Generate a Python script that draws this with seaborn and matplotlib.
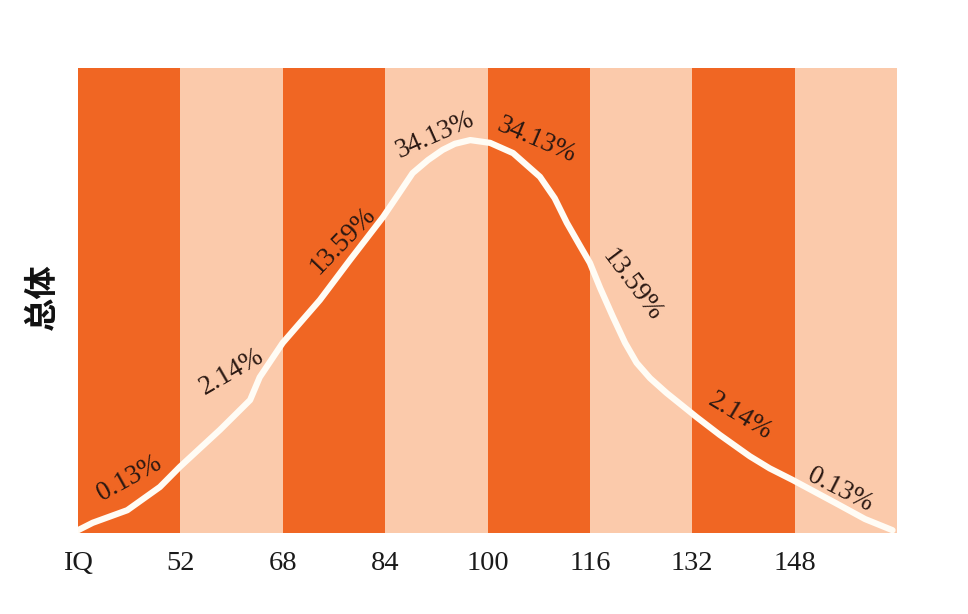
import pandas as pd
import matplotlib
matplotlib.use("Agg")
import matplotlib.pyplot as plt
import seaborn as sns

# bandas de IQ (borde izquierdo) y colores alternos
band_left = [36, 52, 68, 84, 100, 116, 132, 148]
band_width = 16
band_colors = ["#F06623", "#FBCAAB", "#F06623", "#FBCAAB",
               "#F06623", "#FBCAAB", "#F06623", "#FBCAAB"]
tick_labels = ["IQ", "52", "68", "84", "100", "116", "132", "148"]

# curva dibujada a mano, altura relativa 0..1
curve_iq = [36.0, 38.3, 43.7, 48.8, 51.9, 58.2, 62.9, 64.4, 68.0, 73.8, 78.5, 83.7,
            86.3, 88.3, 90.7, 93.0, 94.9, 97.3, 100.4, 104.0, 108.2, 110.5, 112.4,
            114.4, 116.0, 117.6, 119.6, 121.5, 123.3, 125.4, 128.0, 132.7, 136.3,
            141.0, 144.1, 147.7, 154.6, 159.0, 163.3]
curve_h = [0.006, 0.022, 0.049, 0.099, 0.142, 0.222, 0.286, 0.335, 0.409, 0.501,
           0.587, 0.680, 0.733, 0.774, 0.802, 0.824, 0.837, 0.845, 0.839, 0.817,
           0.766, 0.720, 0.667, 0.619, 0.581, 0.527, 0.465, 0.409, 0.366, 0.333,
           0.301, 0.249, 0.211, 0.165, 0.139, 0.114, 0.063, 0.030, 0.006]

# etiquetas de porcentaje
pct_text = ["0.13%", "2.14%", "13.59%", "34.13%", "34.13%", "13.59%", "2.14%", "0.13%"]
pct_x = [44.1, 60.1, 77.4, 91.8, 107.7, 122.6, 139.4, 155.1]
pct_y = [0.118, 0.347, 0.630, 0.855, 0.845, 0.533, 0.250, 0.093]
pct_rot = [29, 30, 46, 24, -23, -53, -31, -27]

sns.set_theme(style="white")
plt.rcParams["font.family"] = ["Liberation Serif", "DejaVu Serif"]

fig = plt.figure(figsize=(9.68, 6.14), dpi=100)
ax = fig.add_axes([78 / 968, 81 / 614, 819 / 968, 465 / 614])

ax.bar(band_left, [1] * len(band_left), width=band_width, align="edge",
       color=band_colors, linewidth=0)

df = pd.DataFrame({"iq": curve_iq, "h": curve_h})
sns.lineplot(data=df, x="iq", y="h", ax=ax, color="#FFFCF5", linewidth=4.5,
             sort=False, solid_capstyle="round", solid_joinstyle="round")

for t, x, y, r in zip(pct_text, pct_x, pct_y, pct_rot):
    ax.text(x, y, t, rotation=r, ha="center", va="center", fontsize=19.5,
            color="#2a1812", rotation_mode="anchor")

ax.set_xlim(36, 164)
ax.set_ylim(0, 1)
ax.set_xticks(band_left)
ax.set_xticklabels(tick_labels, fontsize=20.5, color="#1a1a1a")
ax.tick_params(axis="x", length=0, pad=13)
ax.set_yticks([])
ax.set_xlabel("")
ax.set_ylabel("")
for s in ax.spines.values():
    s.set_visible(False)

fig.text(42 / 968, 1 - 297 / 614, "总体", rotation=90, ha="center", va="center",
         fontsize=24, fontweight="bold", color="#111111",
         family=["Noto Sans CJK SC", "DejaVu Sans"])

fig.savefig("out.png", dpi=100)
